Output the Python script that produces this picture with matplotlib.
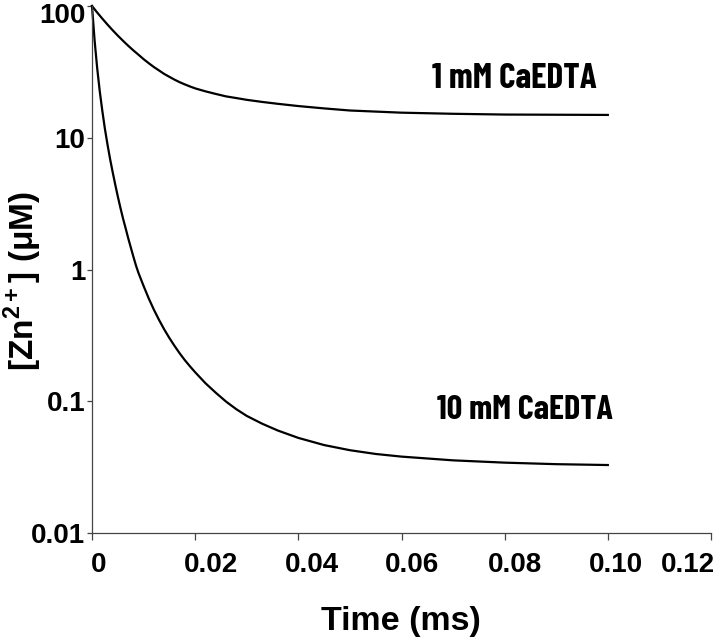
import matplotlib
matplotlib.use("Agg")
import matplotlib.pyplot as plt
import matplotlib.transforms as mtransforms
from matplotlib import font_manager

# ---- data ----
t_1mM = [0, 0.001, 0.002, 0.003, 0.004, 0.005, 0.006, 0.007, 0.008, 0.009,
         0.010, 0.011, 0.012, 0.013, 0.014, 0.015, 0.016, 0.017, 0.018, 0.019,
         0.020, 0.022, 0.024, 0.026, 0.028, 0.030, 0.033, 0.036, 0.040, 0.045,
         0.050, 0.060, 0.070, 0.080, 0.090, 0.100]
zn_1mM = [100, 89.3, 80.2, 72.3, 65.5, 59.6, 54.5, 50.0, 46.1, 42.7,
          39.5, 36.8, 34.4, 32.4, 30.5, 29.0, 27.6, 26.4, 25.4, 24.5,
          23.7, 22.5, 21.5, 20.6, 20.0, 19.4, 18.7, 18.1, 17.4, 16.7,
          16.1, 15.5, 15.2, 15.0, 14.95, 14.9]

t_10mM = [0, 0.0005, 0.001, 0.0015, 0.002, 0.0025, 0.003, 0.0035, 0.004, 0.0045,
          0.005, 0.0055, 0.006, 0.0065, 0.007, 0.0075, 0.008, 0.0085, 0.009, 0.010,
          0.011, 0.012, 0.013, 0.014, 0.015, 0.016, 0.017, 0.018, 0.019, 0.020,
          0.022, 0.024, 0.026, 0.028, 0.030, 0.033, 0.036, 0.040, 0.045, 0.050,
          0.055, 0.060, 0.070, 0.080, 0.090, 0.100]
zn_10mM = [100, 55.0, 33.9, 22.6, 16.0, 11.7, 8.91, 6.92, 5.50, 4.42,
           3.59, 2.95, 2.45, 2.07, 1.74, 1.48, 1.26, 1.08, 0.944, 0.750,
           0.603, 0.495, 0.414, 0.351, 0.302, 0.263, 0.231, 0.205, 0.184, 0.166,
           0.137, 0.116, 0.0993, 0.0869, 0.0774, 0.0675, 0.0600, 0.0527, 0.0465, 0.0425,
           0.0398, 0.0380, 0.0356, 0.0342, 0.0333, 0.0328]

x_ticks = [0, 0.02, 0.04, 0.06, 0.08, 0.10, 0.12]
x_tick_labels = ["0", "0.02", "0.04", "0.06", "0.08", "0.10", "0.12"]
y_ticks = [0.01, 0.1, 1, 10, 100]
y_tick_labels = ["0.01", "0.1", "1", "10", "100"]

label_1mM = "1 mM CaEDTA"
label_10mM = "10 mM CaEDTA"
x_label = "Time (ms)"
y_label = r"[Zn$^{\mathbf{2+}}$] (μM)"

# ---- style ----
plt.rcParams['mathtext.fontset'] = 'custom'
plt.rcParams['mathtext.bf'] = 'Liberation Sans:bold'
plt.rcParams['mathtext.rm'] = 'Liberation Sans:bold'
main_font = ['Liberation Sans', 'DejaVu Sans']
avail = {f.name for f in font_manager.fontManager.ttflist}
narrow_candidates = ['Liberation Sans Narrow', 'Arimo Narrow', 'Barlow Condensed',
                     'Roboto Condensed', 'PT Sans Narrow', 'Archivo Narrow']
narrow_font = [next((n for n in narrow_candidates if n in avail), 'DejaVu Sans'), 'DejaVu Sans']

fig = plt.figure(figsize=(7.2, 6.43), dpi=100)
ax = fig.add_axes([92/720, 1 - 533/643, (711 - 92)/720, (533 - 6)/643])

ax.plot(t_1mM, zn_1mM, color='black', lw=1.6, clip_on=False, solid_joinstyle='round')
ax.plot(t_10mM, zn_10mM, color='black', lw=1.6, clip_on=False, solid_joinstyle='round')

ax.set_yscale('log')
ax.set_xlim(0, 0.12)
ax.set_ylim(0.01, 100)
ax.minorticks_off()
ax.set_xticks(x_ticks)
ax.set_xticklabels(x_tick_labels)
ax.set_yticks(y_ticks)
ax.set_yticklabels(y_tick_labels)

for s in ['top', 'right']:
    ax.spines[s].set_visible(False)
for s in ['left', 'bottom']:
    ax.spines[s].set_color('#444444')
    ax.spines[s].set_linewidth(0.9)

ax.tick_params(axis='x', length=5, width=0.9, color='#444444', pad=8.5)
ax.tick_params(axis='y', length=3.4, width=0.9, color='#444444', pad=1.5)

for lbl in ax.get_xticklabels() + ax.get_yticklabels():
    lbl.set_fontfamily(main_font)
    lbl.set_fontweight('bold')
    lbl.set_fontsize(20)

# small label offsets as in the reference (pixels)
x_offsets = [7, 16, 14, 11, 10, 8, -23]
for lbl, dx in zip(ax.get_xticklabels(), x_offsets):
    lbl.set_transform(lbl.get_transform() + mtransforms.ScaledTranslation(dx/100, 0, fig.dpi_scale_trans))
ylbls = ax.get_yticklabels()
ylbls[-1].set_transform(ylbls[-1].get_transform() + mtransforms.ScaledTranslation(0, -7/100, fig.dpi_scale_trans))

fig.text(401/720, 1 - 630/643, x_label, ha='center', va='baseline',
         fontsize=24.5, fontweight='bold', family=main_font)
fig.text(23/720, 1 - 281/643, y_label, ha='center', va='center', rotation=90,
         fontsize=24, fontweight='bold', family=main_font)

t1 = ax.text(0.0659, 23.9, label_1mM, ha='left', va='baseline', fontsize=22,
             fontweight='bold', family=narrow_font)
t2 = ax.text(0.0669, 0.0733, label_10mM, ha='left', va='baseline', fontsize=22,
             fontweight='bold', family=narrow_font)

# fit annotation widths to the reference (165 px and 176 px)
fig.canvas.draw()
r = fig.canvas.get_renderer()
for t, target in ((t1, 165), (t2, 176)):
    w = t.get_window_extent(r).width
    t.set_fontsize(t.get_fontsize() * target / w)

fig.savefig('out.png', dpi=100)
